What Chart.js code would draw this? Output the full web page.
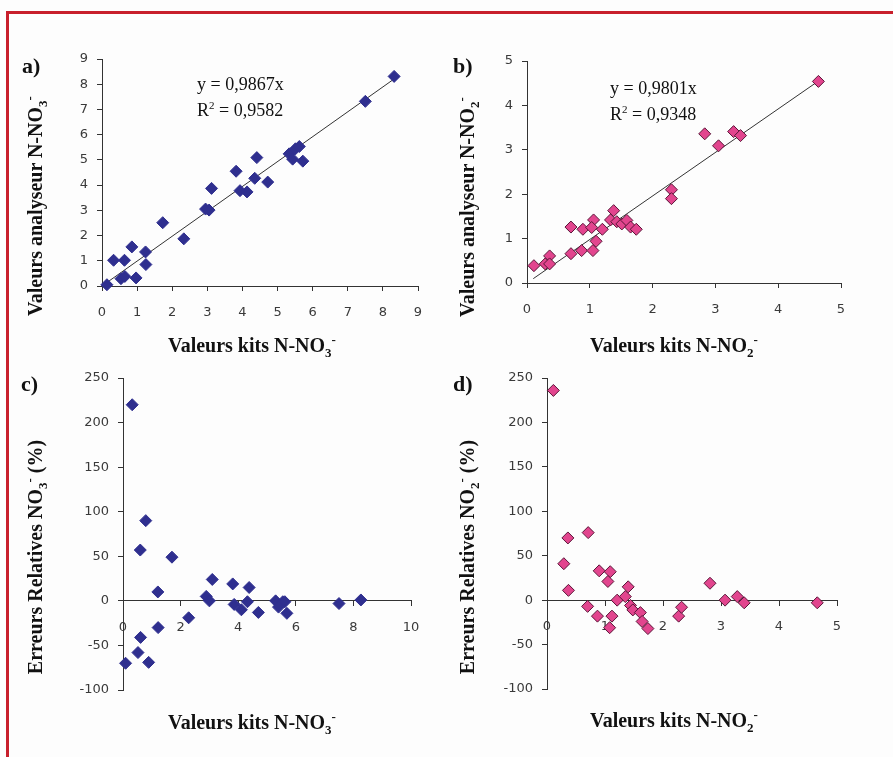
<!DOCTYPE html>
<html>
<head>
<meta charset="utf-8">
<script src="https://cdn.jsdelivr.net/npm/chart.js@4.4.0/dist/chart.umd.min.js"></script>
<style>
  html, body { margin: 0; padding: 0; }
  body { width: 893px; height: 757px; overflow: hidden; background: #fdfdfd; position: relative; font-family: "Liberation Serif", "Times New Roman", serif; color: #111; }
  #frame { position: absolute; left: 6px; top: 11px; width: 1000px; height: 1000px; border: 3px solid #c8202c; }
  canvas { position: absolute; }
  .lbl { position: absolute; font-weight: bold; font-size: 22px; line-height: 22px; }
  .eq { position: absolute; font-size: 18px; line-height: 26px; white-space: nowrap; }
  .ttl { position: absolute; font-weight: bold; font-size: 20px; line-height: 22px; white-space: nowrap; transform: translate(-50%, -50%); }
  .ttl.v { transform: translate(-50%, -50%) rotate(-90deg); }
  sub, sup { font-size: 13px; line-height: 0; }
  .eq sup { font-size: 11px; }
</style>
</head>
<body>
<div id="frame"></div>

<canvas id="chartA" width="440" height="360" style="left:0px;top:20px"></canvas>
<canvas id="chartB" width="453" height="360" style="left:440px;top:20px"></canvas>
<canvas id="chartC" width="440" height="387" style="left:0px;top:370px"></canvas>
<canvas id="chartD" width="453" height="387" style="left:440px;top:370px"></canvas>

<div class="lbl" style="left:22px;top:55px">a)</div>
<div class="lbl" style="left:453px;top:55px">b)</div>
<div class="lbl" style="left:21px;top:373px">c)</div>
<div class="lbl" style="left:453px;top:373px">d)</div>

<div class="eq" style="left:197px;top:71px">y = 0,9867x<br>R<sup>2</sup> = 0,9582</div>
<div class="eq" style="left:610px;top:75px">y = 0,9801x<br>R<sup>2</sup> = 0,9348</div>

<div class="ttl" style="left:252px;top:345px">Valeurs kits N-NO<sub>3</sub><sup>-</sup></div>
<div class="ttl v" style="left:35px;top:206px">Valeurs analyseur N-NO<sub>3</sub><sup>-</sup></div>
<div class="ttl" style="left:674px;top:345px">Valeurs kits N-NO<sub>2</sub><sup>-</sup></div>
<div class="ttl v" style="left:467px;top:207px">Valeurs analyseur N-NO<sub>2</sub><sup>-</sup></div>
<div class="ttl" style="left:252px;top:722px">Valeurs kits N-NO<sub>3</sub><sup>-</sup></div>
<div class="ttl v" style="left:35px;top:557px">Erreurs Relatives NO<sub>3</sub><sup>-</sup> (%)</div>
<div class="ttl" style="left:674px;top:720px">Valeurs kits N-NO<sub>2</sub><sup>-</sup></div>
<div class="ttl v" style="left:467px;top:557px">Erreurs Relatives NO<sub>2</sub><sup>-</sup> (%)</div>

<script>
'use strict';

// ---- a) nitrates : kits vs analyseur
const kitsNO3 = [0.14, 0.33, 0.64, 0.54, 0.65, 0.85, 0.97, 1.24, 1.25, 1.73, 2.33, 2.95, 3.05, 3.12, 3.82, 3.93, 4.13, 4.35, 4.41, 4.72, 5.33, 5.43, 5.51, 5.62, 5.72, 7.50, 8.32];
const analyseurNO3 = [0.05, 1.02, 1.02, 0.29, 0.38, 1.55, 0.32, 1.35, 0.85, 2.51, 1.87, 3.05, 3.01, 3.87, 4.55, 3.78, 3.73, 4.27, 5.09, 4.12, 5.24, 5.03, 5.44, 5.53, 4.95, 7.32, 8.31];
const slopeNO3 = 0.9867;
const trendRangeNO3 = [0.1, 8.3];

// ---- b) nitrites : kits vs analyseur
const kitsNO2 = [0.11, 0.29, 0.36, 0.36, 0.70, 0.70, 0.89, 0.87, 1.06, 1.03, 1.10, 1.05, 1.20, 1.33, 1.38, 1.43, 1.51, 1.59, 1.65, 1.74, 2.30, 2.30, 2.83, 3.05, 3.29, 3.40, 4.64];
const analyseurNO2 = [0.39, 0.43, 0.61, 0.43, 1.26, 0.66, 1.21, 0.73, 1.42, 1.25, 0.94, 0.73, 1.21, 1.42, 1.63, 1.38, 1.33, 1.41, 1.26, 1.21, 2.10, 1.90, 3.36, 3.09, 3.41, 3.32, 4.54];
const slopeNO2 = 0.9801;
const trendRangeNO2 = [0.1, 4.65];

// ---- c) erreurs relatives nitrates
const errKitsNO3 = [0.32, 0.09, 0.60, 0.79, 0.61, 0.52, 0.89, 1.21, 1.22, 1.70, 2.28, 2.89, 3.00, 3.10, 3.81, 3.86, 4.11, 4.32, 4.38, 4.70, 5.30, 5.40, 5.55, 5.62, 5.69, 7.50, 8.26];
const errNO3 = [220, -70, 57, 90, -41, -58, -69, 10, -30, 49, -19, 5, 0, 24, 19, -4, -10, -1, 15, -13, 0, -7, -1, -1, -14, -3, 1];

// ---- d) erreurs relatives nitrites
const errKitsNO2 = [0.11, 0.29, 0.36, 0.37, 0.71, 0.70, 0.87, 0.90, 1.09, 1.05, 1.12, 1.08, 1.21, 1.35, 1.40, 1.44, 1.48, 1.61, 1.64, 1.74, 2.27, 2.32, 2.81, 3.07, 3.28, 3.40, 4.66];
const errNO2 = [236, 41, 70, 11, 76, -7, -18, 33, 32, 21, -18, -31, 0, 4, 15, -6, -11, -14, -24, -32, -18, -8, 19, 0, 4, -3, -3];

const navy = '#2f2f8f';
const pink = '#e2458e';
const pinkEdge = '#5a1638';
const tickFont = { family: 'DejaVu Sans', size: 13 };

function makeScale(min, max, step, size, isX, position) {
  const s = {
    type: 'linear',
    min: min,
    max: max,
    ticks: { stepSize: step, color: '#3a3a3a', font: tickFont, padding: isX ? 14 : 9, maxRotation: 0 },
    grid: { drawOnChartArea: false, drawTicks: true, tickLength: 5, color: '#333' },
    border: { display: true, color: '#333', width: 1 },
    afterFit: function (sc) {
      if (isX) { sc.height = size; sc.paddingLeft = 0; sc.paddingRight = 0; }
      else { sc.width = size; sc.paddingTop = 0; sc.paddingBottom = 0; }
    }
  };
  if (position) s.position = position;
  return s;
}

function points(xs, ys) {
  return xs.map(function (x, i) { return { x: x, y: ys[i] }; });
}

function scatterPanel(id, xs, ys, fill, edge, xScale, yScale, padding, trend) {
  const datasets = [{
    type: 'scatter',
    data: points(xs, ys),
    pointStyle: 'rectRot',
    pointRadius: 6,
    backgroundColor: fill,
    borderColor: edge,
    borderWidth: 1,
    clip: false
  }];
  if (trend) {
    datasets.push({
      type: 'line',
      data: trend,
      borderColor: '#333',
      borderWidth: 1,
      pointRadius: 0,
      fill: false
    });
  }
  new Chart(document.getElementById(id), {
    type: 'scatter',
    data: { datasets: datasets },
    options: {
      responsive: false,
      animation: false,
      events: [],
      layout: { padding: padding },
      plugins: { legend: { display: false }, tooltip: { enabled: false } },
      scales: { x: xScale, y: yScale }
    }
  });
}

function trendLine(range, slope) {
  return range.map(function (x) { return { x: x, y: x * slope }; });
}

// a)
scatterPanel('chartA', kitsNO3, analyseurNO3, navy, navy,
  makeScale(0, 9, 1, 94, true),
  makeScale(0, 9, 1, 102, false),
  { left: 0, top: 39, right: 22, bottom: 0 },
  trendLine(trendRangeNO3, slopeNO3));

// b)
scatterPanel('chartB', kitsNO2, analyseurNO2, pink, pinkEdge,
  makeScale(0, 5, 1, 97, true),
  makeScale(0, 5, 1, 87, false),
  { left: 0, top: 41, right: 52, bottom: 0 },
  trendLine(trendRangeNO2, slopeNO2));

// c)
scatterPanel('chartC', errKitsNO3, errNO3, navy, navy,
  makeScale(0, 10, 2, 0, true, { y: 0 }),
  makeScale(-100, 250, 50, 123, false),
  { left: 0, top: 8, right: 29, bottom: 67 },
  null);

// d)
scatterPanel('chartD', errKitsNO2, errNO2, pink, pinkEdge,
  makeScale(0, 5, 1, 0, true, { y: 0 }),
  makeScale(-100, 250, 50, 107, false),
  { left: 0, top: 8, right: 56, bottom: 68 },
  null);
</script>
</body>
</html>
